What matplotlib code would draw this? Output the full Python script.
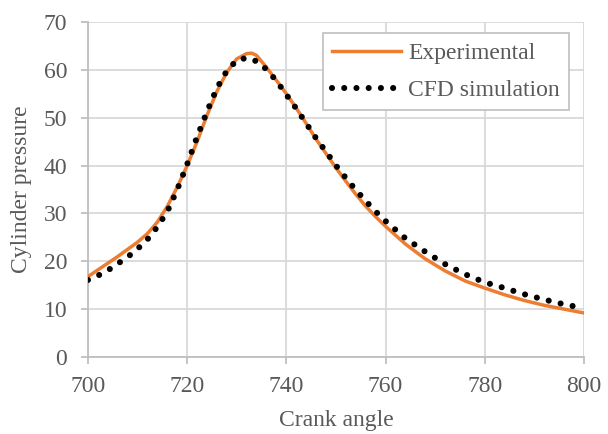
import matplotlib.pyplot as plt

plt.rcParams['font.family'] = ['Liberation Serif', 'DejaVu Serif']

# crank angle / pressure
exp_angle = [700, 702, 704, 706, 708, 710, 712, 714, 716, 718, 720, 722, 724, 726,
             728, 730, 732, 733, 734, 736, 738, 740, 742, 744, 746, 748, 750, 752,
             754, 756, 758, 760, 764, 768, 772, 776, 780, 784, 788, 792, 796, 800]
exp_pressure = [16.8, 18.2, 19.6, 21.0, 22.5, 24.0, 25.8, 28.2, 31.5, 35.5, 40.0, 45.0,
                50.5, 55.5, 59.5, 62.3, 63.4, 63.5, 63.0, 60.5, 57.8, 55.0, 52.0, 48.8,
                45.5, 42.5, 39.5, 36.7, 34.0, 31.5, 29.3, 27.3, 23.6, 20.5, 18.0, 15.9,
                14.4, 13.0, 11.8, 10.8, 10.0, 9.2]

cfd_angle = [700, 702, 704, 706, 708, 710, 712, 714, 716, 718, 720, 722, 724, 726,
             728, 730, 732, 734, 736, 738, 740, 742, 744, 746, 748, 750, 752, 754,
             756, 758, 760, 764, 768, 772, 776, 780, 784, 788, 792, 796, 800]
cfd_pressure = [16.1, 17.0, 18.1, 19.5, 20.9, 22.6, 24.6, 27.2, 30.4, 35.0, 40.3, 46.0,
                51.3, 56.2, 59.8, 62.0, 62.5, 61.8, 60.1, 57.7, 54.8, 51.9, 48.8, 45.7,
                42.9, 40.0, 37.4, 34.9, 32.6, 30.4, 28.4, 24.8, 22.0, 19.4, 17.3, 15.6,
                14.4, 13.1, 12.0, 11.0, 10.2]

x_ticks = [700, 720, 740, 760, 780, 800]
y_ticks = [0, 10, 20, 30, 40, 50, 60, 70]

txt = '#595959'
grid = '#D9D9D9'
fs = 17

fig = plt.figure(figsize=(6.08, 4.34), dpi=100)
ax = fig.add_axes([0.1447, 0.1774, 0.9605 - 0.1447, 0.9493 - 0.1774])

ax.plot(exp_angle, exp_pressure, color='#ED7D31', lw=2.5, label='Experimental', zorder=3)
ax.plot(cfd_angle, cfd_pressure, color='black', lw=4.4, linestyle=(0, (0.001, 2.0)),
        dash_capstyle='round', label='CFD simulation', zorder=4)

ax.set_xlim(700, 800)
ax.set_ylim(0, 70)
ax.set_xticks(x_ticks)
ax.set_yticks(y_ticks)
ax.grid(True, color=grid, lw=1.3)
ax.set_axisbelow(True)
for s in ['top', 'right']:
    ax.spines[s].set_visible(False)
for s in ['left', 'bottom']:
    ax.spines[s].set_color('#BFBFBF')
    ax.spines[s].set_linewidth(1.3)
ax.tick_params(colors='#BFBFBF', labelcolor=txt, labelsize=fs, length=5, width=1.3)
ax.tick_params(axis='x', pad=9)
ax.tick_params(axis='y', pad=10)

ax.set_xlabel('Crank angle', fontsize=fs, color=txt, labelpad=9)
ax.set_ylabel('Cylinder pressure', fontsize=fs, color=txt, labelpad=8)

leg = ax.legend(loc='upper right', bbox_to_anchor=(0.970, 0.967), fontsize=fs,
                labelcolor=txt, fancybox=False, edgecolor='#BFBFBF', framealpha=1,
                handlelength=2.9, handletextpad=0.3, labelspacing=0.65,
                borderaxespad=0)
leg.get_frame().set_linewidth(1.2)

fig.savefig('out.png', dpi=100)
